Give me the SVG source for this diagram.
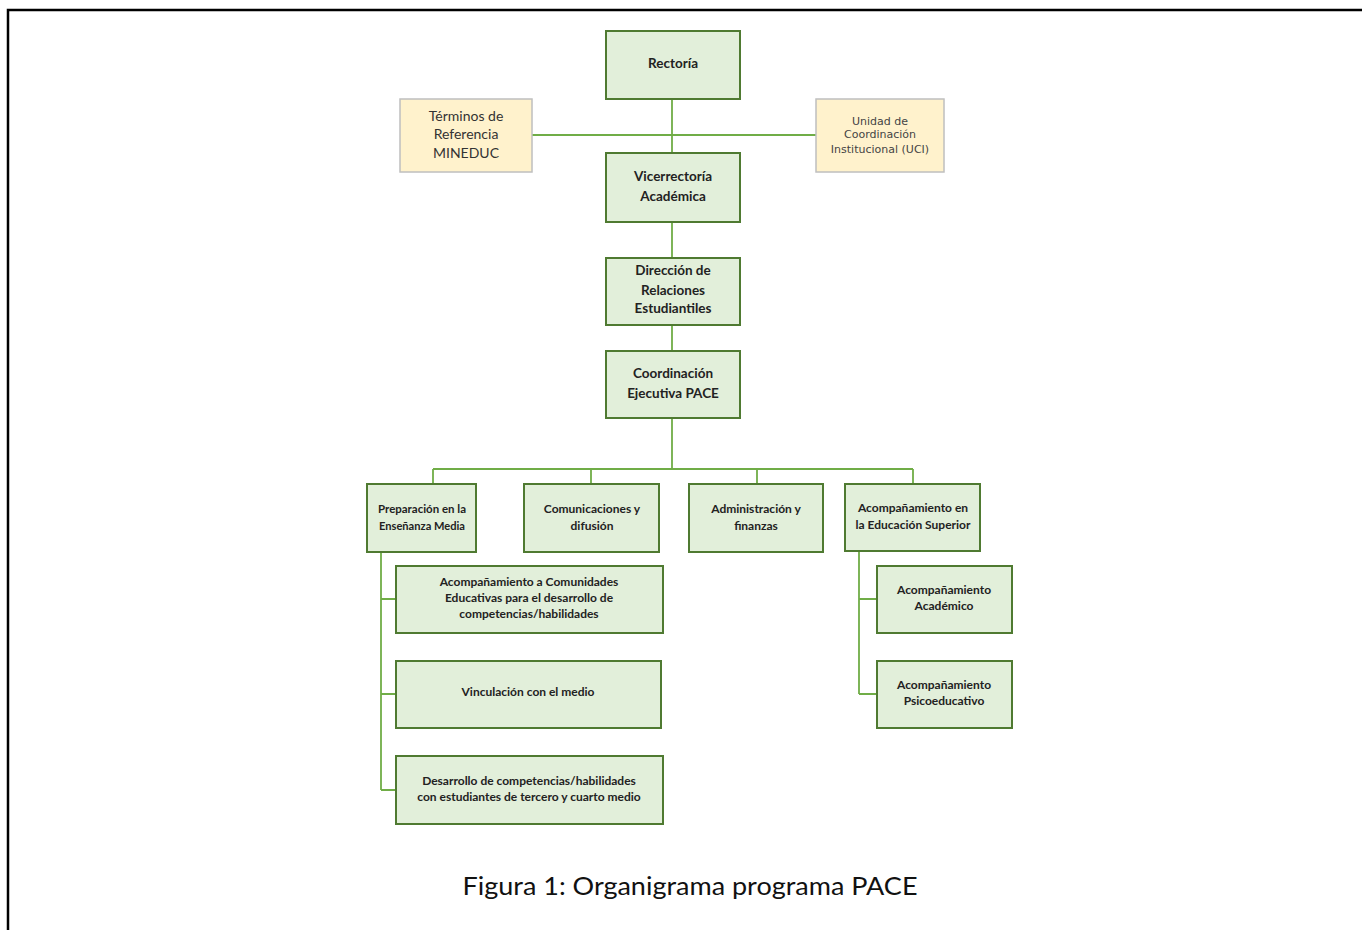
<svg xmlns="http://www.w3.org/2000/svg" width="1362" height="930" viewBox="0 0 1362 930">
<style>
.n{fill:#e2efda;stroke:#4f7a31;stroke-width:2}
.y{fill:#fff2cc;stroke:#bfbfbf;stroke-width:1.5}
.t{font-family:Lato,"Open Sans",sans-serif;font-weight:bold;font-size:13.5px;fill:#222;text-anchor:middle}
.s{font-family:Lato,"Open Sans",sans-serif;font-weight:bold;font-size:12px;fill:#222;text-anchor:middle}
.r{font-family:Lato,"Open Sans",sans-serif;font-size:14px;fill:#333;text-anchor:middle}
.u{font-family:"DejaVu Sans",sans-serif;font-size:11px;fill:#444;text-anchor:middle}
.c{fill:none;stroke:#70ad47;stroke-width:1.8}
</style>
<rect width="1362" height="930" fill="#fff"/>
<path d="M8 930 V10 H1362" fill="none" stroke="#000" stroke-width="2.5"/>
<g id="connectors">
<path class="c" d="M672 99 V153 M532 135 H816 M672 222 V258 M672 325 V351 M672 418 V469 M433 469 H913 M433 469 V484 M591 469 V484 M757 469 V484 M913 469 V484"/>
<path class="c" d="M381 552 V790 M381 599 H396 M381 694 H396 M381 790 H396"/>
<path class="c" d="M859 551 V694 M859 599 H877 M859 694 H877"/>
</g>
<g id="rectoria"><rect class="n" x="606" y="31" width="134" height="68"/><text class="t" x="673" y="68">Rectoría</text></g>
<g id="terminos"><rect class="y" x="400" y="99" width="132" height="73"/><text class="r" x="466" y="121">Términos de</text><text class="r" x="466" y="139">Referencia</text><text class="r" x="466" y="158">MINEDUC</text></g>
<g id="uci"><rect class="y" x="816" y="99" width="128" height="73"/><text class="u" x="880" y="125">Unidad de</text><text class="u" x="880" y="138">Coordinación</text><text class="u" x="880" y="153">Institucional (UCI)</text></g>
<g id="vicerrectoria"><rect class="n" x="606" y="153" width="134" height="69"/><text class="t" x="673" y="181">Vicerrectoría</text><text class="t" x="673" y="201">Académica</text></g>
<g id="direccion"><rect class="n" x="606" y="258" width="134" height="67"/><text class="t" x="673" y="275">Dirección de</text><text class="t" x="673" y="295">Relaciones</text><text class="t" x="673" y="313">Estudiantiles</text></g>
<g id="coordinacion"><rect class="n" x="606" y="351" width="134" height="67"/><text class="t" x="673" y="378">Coordinación</text><text class="t" x="673" y="398">Ejecutiva PACE</text></g>
<g id="preparacion"><rect class="n" x="367" y="484" width="109" height="68"/><text class="s" x="422" y="513" font-size="11.5" textLength="88" lengthAdjust="spacingAndGlyphs">Preparación en la</text><text class="s" x="422" y="530" font-size="11.5" textLength="86" lengthAdjust="spacingAndGlyphs">Enseñanza Media</text></g>
<g id="comunicaciones"><rect class="n" x="524" y="484" width="135" height="68"/><text class="s" x="592" y="513">Comunicaciones y</text><text class="s" x="592" y="530">difusión</text></g>
<g id="administracion"><rect class="n" x="689" y="484" width="134" height="68"/><text class="s" x="756" y="513">Administración y</text><text class="s" x="756" y="530">finanzas</text></g>
<g id="acomp-superior"><rect class="n" x="845" y="484" width="135" height="67"/><text class="s" x="913" y="512">Acompañamiento en</text><text class="s" x="913" y="529">la Educación Superior</text></g>
<g id="acomp-comunidades"><rect class="n" x="396" y="566" width="267" height="67"/><text class="s" x="529" y="586">Acompañamiento a Comunidades</text><text class="s" x="529" y="602">Educativas para el desarrollo de</text><text class="s" x="529" y="618">competencias/habilidades</text></g>
<g id="vinculacion"><rect class="n" x="396" y="661" width="265" height="67"/><text class="s" x="528" y="696">Vinculación  con el medio</text></g>
<g id="desarrollo"><rect class="n" x="396" y="756" width="267" height="68"/><text class="s" x="529" y="785">Desarrollo de competencias/habilidades</text><text class="s" x="529" y="801">con estudiantes de tercero y cuarto medio</text></g>
<g id="acomp-academico"><rect class="n" x="877" y="566" width="135" height="67"/><text class="s" x="944" y="594">Acompañamiento</text><text class="s" x="944" y="610">Académico</text></g>
<g id="acomp-psico"><rect class="n" x="877" y="661" width="135" height="67"/><text class="s" x="944" y="689">Acompañamiento</text><text class="s" x="944" y="705">Psicoeducativo</text></g>
<text x="690" y="895" font-family="Lato,'Open Sans',sans-serif" font-size="25" fill="#111" text-anchor="middle" textLength="455" lengthAdjust="spacingAndGlyphs">Figura 1: Organigrama programa PACE</text>
</svg>
